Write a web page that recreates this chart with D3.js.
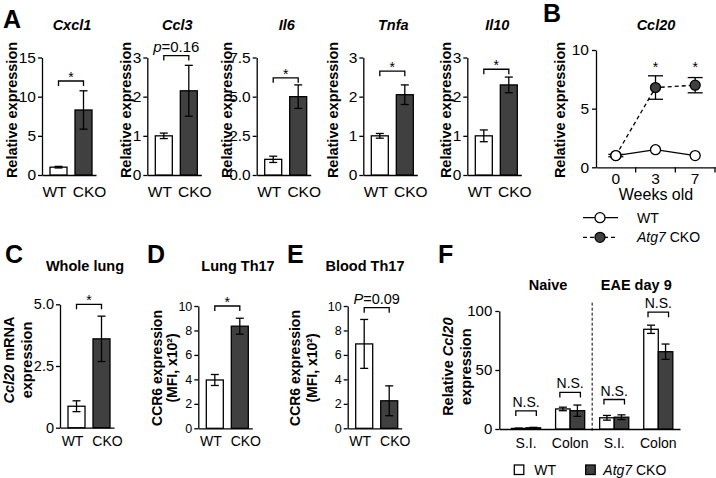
<!DOCTYPE html>
<html>
<head>
<meta charset="utf-8">
<script src="https://cdn.jsdelivr.net/npm/d3@7"></script>
<style>
body { margin: 0; background: #fff; }
svg { display: block; font-family: "Liberation Sans", Arial, sans-serif; }
</style>
</head>
<body>
<svg id="fig" width="716" height="478"></svg>
<script>
// ---- data ----
var genotypes = ["WT", "CKO"];

// panel A: cytokine expression
var aGenes = ["Cxcl1", "Ccl3", "Il6", "Tnfa", "Il10"];
var aWT = [1.0, 1.0, 1.0, 1.0, 1.0];
var aWTErr = [0.1, 0.07, 0.2, 0.06, 0.15];
var aCKO = [8.3, 2.15, 5.0, 2.05, 2.3];
var aCKOErr = [2.45, 0.65, 0.75, 0.25, 0.2];
var aMax = [15, 3, 7.5, 3, 3];
var aTicks = [[0, 5, 10, 15], [0, 1, 2, 3], [0, 2.5, 5, 7.5], [0, 1, 2, 3], [0, 1, 2, 3]];
var aSig = ["*", "p=0.16", "*", "*", "*"];
var aBracket = [12, 3.05, 6.2, 2.65, 2.7];

// panel B: Ccl20 over time
var bWeeks = ["0", "3", "7"];
var bWT = [1.0, 1.5, 1.0];
var bCKO = [1.0, 6.8, 7.0];
var bCKOErr = [0.1, 1.0, 0.65];
var bSig = ["", "*", "*"];

// panel C, D, E
var cVals = [0.87, 3.6];
var cErr = [0.22, 0.92];
var dVals = [3.95, 8.35];
var dErr = [0.45, 0.65];
var eVals = [6.9, 2.25];
var eErr = [2.0, 1.22];

// panel F
var fGroups = ["Naive", "EAE day 9"];
var fTissues = ["S.I.", "Colon", "S.I.", "Colon"];
var fWT = [0.5, 17, 9.5, 84.5];
var fWTErr = [0.3, 1.5, 2, 3.5];
var fCKO = [1.0, 15.5, 10, 65.5];
var fCKOErr = [0.4, 4.8, 2, 6.5];
var fBracket = [15.3, 31, 25, 99];

// ---- drawing ----
var svg = d3.select("#fig");
var dark = "#404040";
var lw = 1.3;

svg.append("rect").attr("width", 716).attr("height", 478).attr("fill", "#fff");

function styleAxis(g, fs) {
  g.select(".domain").attr("stroke", "#000").attr("stroke-width", lw);
  g.selectAll(".tick line").attr("stroke", "#000").attr("stroke-width", lw);
  g.selectAll(".tick text").attr("fill", "#000").style("font-size", fs + "px")
    .style("font-family", "'Liberation Sans', Arial, sans-serif");
}

function errBar(g, cx, y, v, e, cap) {
  g.append("line").attr("x1", cx).attr("x2", cx).attr("y1", y(v - e)).attr("y2", y(v + e))
    .attr("stroke", "#000").attr("stroke-width", lw);
  [v - e, v + e].forEach(function(t) {
    g.append("line").attr("x1", cx - cap).attr("x2", cx + cap).attr("y1", y(t)).attr("y2", y(t))
      .attr("stroke", "#000").attr("stroke-width", lw);
  });
}

function bracket(g, x1, x2, yb, label, fs, italicFirst) {
  g.append("path").attr("d", "M" + x1 + "," + (yb + 5) + "V" + yb + "H" + x2 + "V" + (yb + 5))
    .attr("fill", "none").attr("stroke", "#000").attr("stroke-width", lw);
  var t = g.append("text").attr("x", (x1 + x2) / 2).attr("y", label == "*" ? yb + 1 : yb - 4)
    .attr("text-anchor", "middle").style("font-size", fs + "px");
  if (italicFirst) {
    t.append("tspan").style("font-style", "italic").text(label.charAt(0));
    t.append("tspan").text(label.slice(1));
  } else t.text(label);
}

function yLabel(x, yc, parts, fs) {
  var t = svg.append("text").attr("transform", "translate(" + x + "," + yc + ") rotate(-90)")
    .attr("text-anchor", "middle").attr("dy", "0.35em")
    .style("font-size", fs + "px").style("font-weight", "bold");
  parts.forEach(function(p) {
    t.append("tspan").style("font-style", p[1] ? "italic" : "normal").text(p[0]);
  });
}

function letter(s, x, y) {
  svg.append("text").attr("x", x).attr("y", y).text(s)
    .style("font-size", "25px").style("font-weight", "bold");
}

// WT vs CKO bar panel
function barPanel(p) {
  var g = svg.append("g");
  var x = d3.scaleBand().domain(genotypes).range([p.x0, p.x0 + 54])
    .paddingInner(0.32).paddingOuter(0.24).align(0.667);
  var y = d3.scaleLinear().domain([0, p.max]).range([p.bottom, p.top]);

  g.append("g").attr("transform", "translate(" + p.x0 + ",0)")
    .call(d3.axisLeft(y).tickValues(p.ticks).tickFormat(p.fmt).tickSize(4).tickSizeOuter(0).tickPadding(2))
    .call(styleAxis, p.tickFs);
  var xa = g.append("g").attr("transform", "translate(0," + p.bottom + ")")
    .call(d3.axisBottom(x).tickSize(0).tickSizeOuter(0).tickPadding(p.xPad))
    .call(styleAxis, p.xFs);
  xa.selectAll(".tick text").attr("dx", function(d, i) { return i ? 6 : -4; });

  genotypes.forEach(function(k, i) {
    g.append("rect").attr("x", x(k)).attr("y", y(p.vals[i])).attr("width", x.bandwidth())
      .attr("height", p.bottom - y(p.vals[i]))
      .attr("fill", i ? dark : "#fff").attr("stroke", "#000").attr("stroke-width", lw);
    errBar(g, x(k) + x.bandwidth() / 2, y, p.vals[i], p.errs[i], 4);
  });
  var cW = x("WT") + x.bandwidth() / 2, cK = x("CKO") + x.bandwidth() / 2;
  bracket(g, cW, cK, y(p.bracket), p.sig, p.sigFs, p.sig != "*");
  return {x: x, y: y};
}

// ---- panel A ----
var aAxisX = [42, 147.3, 256.7, 363.3, 467.3];
var aLabelX = [12, 126, 227, 333, 446];
letter("A", 3, 28);
aGenes.forEach(function(gene, i) {
  barPanel({
    x0: aAxisX[i], top: 57.5, bottom: 175, max: aMax[i], ticks: aTicks[i],
    fmt: i == 2 ? d3.format(".1f") : d3.format("d"),
    tickFs: 15.5, xFs: 15.5, xPad: 11,
    vals: [aWT[i], aCKO[i]], errs: [aWTErr[i], aCKOErr[i]],
    bracket: aBracket[i], sig: aSig[i], sigFs: i == 1 ? 15 : 14
  });
  svg.append("text").attr("x", aAxisX[i] + 30).attr("y", 30).attr("text-anchor", "middle")
    .style("font-size", "14.5px").style("font-weight", "bold").style("font-style", "italic").text(gene);
  yLabel(aLabelX[i], 110, [["Relative expression", false]], 14.5);
});

// ---- panel B ----
letter("B", 543, 22);
var bx = d3.scaleBand().domain(bWeeks).range([596, 715]);
var by = d3.scaleLinear().domain([0, 10]).range([167.3, 50]);
var bg = svg.append("g");
bg.append("g").attr("transform", "translate(596,0)")
  .call(d3.axisLeft(by).tickValues([0, 5, 10]).tickSize(4).tickSizeOuter(0).tickPadding(3))
  .call(styleAxis, 15.5);
bg.append("g").attr("transform", "translate(0,167.3)")
  .call(d3.axisBottom(bx).tickSize(0).tickSizeOuter(0).tickPadding(5.5))
  .call(styleAxis, 15.5);
bWeeks.forEach(function(w) {
  var xe = bx(w) + bx.bandwidth();
  bg.append("line").attr("x1", xe).attr("x2", xe).attr("y1", 167.3).attr("y2", 172.5)
    .attr("stroke", "#000").attr("stroke-width", lw);
});
var bcx = function(w) { return bx(w) + bx.bandwidth() / 2; };
var bLine = d3.line().x(function(d) { return bcx(d[0]); }).y(function(d) { return by(d[1]); });
bg.append("path").attr("d", bLine(d3.zip(bWeeks, bCKO))).attr("fill", "none")
  .attr("stroke", "#000").attr("stroke-width", lw).attr("stroke-dasharray", "4,3");
bWeeks.forEach(function(w, i) {
  errBar(bg, bcx(w), by, bCKO[i], bCKOErr[i], 7.5);
  bg.append("circle").attr("cx", bcx(w)).attr("cy", by(bCKO[i])).attr("r", 5)
    .attr("fill", dark).attr("stroke", "#000").attr("stroke-width", lw);
  if (bSig[i]) bg.append("text").attr("x", bcx(w)).attr("y", by(8.8) + 8).attr("text-anchor", "middle")
    .style("font-size", "14px").text(bSig[i]);
});
bg.append("path").attr("d", bLine(d3.zip(bWeeks, bWT))).attr("fill", "none")
  .attr("stroke", "#000").attr("stroke-width", lw);
bWeeks.forEach(function(w, i) {
  bg.append("circle").attr("cx", bcx(w)).attr("cy", by(bWT[i])).attr("r", 5)
    .attr("fill", "#fff").attr("stroke", "#000").attr("stroke-width", lw);
});
svg.append("text").attr("x", 656).attr("y", 30).attr("text-anchor", "middle")
  .style("font-size", "14.5px").style("font-weight", "bold").style("font-style", "italic").text("Ccl20");
yLabel(560, 110, [["Relative expression", false]], 14.5);
svg.append("text").attr("x", 656).attr("y", 200).attr("text-anchor", "middle")
  .style("font-size", "16px").text("Weeks old");
// legend B
[["WT", false], ["CKO", true]].forEach(function(d, i) {
  var ly = 217.7 + i * 19.6;
  svg.append("line").attr("x1", 583).attr("x2", 618).attr("y1", ly).attr("y2", ly)
    .attr("stroke", "#000").attr("stroke-width", lw).attr("stroke-dasharray", i ? "4,3" : null);
  svg.append("circle").attr("cx", 600).attr("cy", ly).attr("r", 5)
    .attr("fill", i ? dark : "#fff").attr("stroke", "#000").attr("stroke-width", lw);
  var t = svg.append("text").attr("x", 637).attr("y", ly + 5).style("font-size", "14px");
  if (d[1]) {
    t.append("tspan").style("font-style", "italic").text("Atg7");
    t.append("tspan").text(" CKO");
  } else t.text(d[0]);
});

// ---- panel C ----
letter("C", 5, 263);
barPanel({
  x0: 60, top: 304.3, bottom: 427.7, max: 5, ticks: [0, 2.5, 5],
  fmt: function(d) { return d === 0 ? "0" : d3.format(".1f")(d); },
  tickFs: 14.5, xFs: 14, xPad: 8,
  vals: cVals, errs: cErr, bracket: 5.0, sig: "*", sigFs: 14
});
svg.append("text").attr("x", 85).attr("y", 271).attr("text-anchor", "middle")
  .style("font-size", "14.5px").style("font-weight", "bold").text("Whole lung");
yLabel(9, 360, [["Ccl20", true], [" mRNA", false]], 14.5);
yLabel(27, 360, [["expression", false]], 14.5);

// ---- panel D ----
letter("D", 147, 263);
barPanel({
  x0: 198.3, top: 306, bottom: 428.3, max: 10, ticks: [0, 2, 4, 6, 8, 10],
  fmt: d3.format("d"), tickFs: 12.5, xFs: 14, xPad: 8,
  vals: dVals, errs: dErr, bracket: 10, sig: "*", sigFs: 14
});
svg.append("text").attr("x", 238).attr("y", 271).attr("text-anchor", "middle")
  .style("font-size", "14.5px").style("font-weight", "bold").text("Lung Th17");
yLabel(157, 368, [["CCR6 expression", false]], 14);
yLabel(172, 368, [["(MFI, x10\u00b2)", false]], 14);

// ---- panel E ----
letter("E", 287, 263);
barPanel({
  x0: 347.7, top: 306, bottom: 428.3, max: 10, ticks: [0, 2, 4, 6, 8, 10],
  fmt: d3.format("d"), tickFs: 12.5, xFs: 14, xPad: 8,
  vals: eVals, errs: eErr, bracket: 9.86, sig: "P=0.09", sigFs: 14.5
});
svg.append("text").attr("x", 365).attr("y", 271).attr("text-anchor", "middle")
  .style("font-size", "14.5px").style("font-weight", "bold").text("Blood Th17");
yLabel(295, 368, [["CCR6 expression", false]], 14);
yLabel(311.7, 368, [["(MFI, x10\u00b2)", false]], 14);

// ---- panel F ----
letter("F", 438, 263);
var fg = svg.append("g");
var fx = d3.scaleBand().domain(d3.range(fTissues.length)).range([499.3, 680])
  .paddingInner(0.34).paddingOuter(0.22).align(0.63);
var fxi = d3.scaleBand().domain(genotypes).range([0, fx.bandwidth()]);
var fy = d3.scaleLinear().domain([0, 100]).range([429, 311]);
fg.append("g").attr("transform", "translate(499.3,0)")
  .call(d3.axisLeft(fy).tickValues([0, 50, 100]).tickSize(4).tickSizeOuter(0).tickPadding(3))
  .call(styleAxis, 15);
var fxa = fg.append("g").attr("transform", "translate(0,429)")
  .call(d3.axisBottom(fx).tickSize(0).tickSizeOuter(0).tickPadding(9)
    .tickFormat(function(d) { return fTissues[d]; }))
  .call(styleAxis, 14);
fTissues.forEach(function(t, i) {
  var vals = [fWT[i], fCKO[i]], errs = [fWTErr[i], fCKOErr[i]];
  genotypes.forEach(function(k, j) {
    var bx0 = fx(i) + fxi(k);
    fg.append("rect").attr("x", bx0).attr("y", fy(vals[j])).attr("width", fxi.bandwidth())
      .attr("height", 429 - fy(vals[j]))
      .attr("fill", j ? dark : "#fff").attr("stroke", "#000").attr("stroke-width", lw);
    errBar(fg, bx0 + fxi.bandwidth() / 2, fy, vals[j], errs[j], 4);
  });
  var c1 = fx(i) + fxi.bandwidth() / 2 - 3, c2 = fx(i) + fxi.bandwidth() * 1.5 + 3;
  bracket(fg, c1, c2, fy(fBracket[i]), "N.S.", 14, false);
});
var sepX = (fx(1) + fx.bandwidth() + fx(2)) / 2;
fg.append("line").attr("x1", sepX).attr("x2", sepX).attr("y1", 302.7).attr("y2", 432)
  .attr("stroke", "#000").attr("stroke-width", 1).attr("stroke-dasharray", "3,2");
fGroups.forEach(function(gname, i) {
  var cx = (fx(2 * i) + fx(2 * i + 1) + fx.bandwidth()) / 2;
  svg.append("text").attr("x", cx).attr("y", 290).attr("text-anchor", "middle")
    .style("font-size", "14.5px").style("font-weight", "bold").text(gname);
});
yLabel(448, 366.7, [["Relative ", false], ["Ccl20", true]], 14.5);
yLabel(465.5, 366.7, [["expression", false]], 14.5);
// legend F
[["WT", 514.3], ["CKO", 585.7]].forEach(function(d, i) {
  svg.append("rect").attr("x", d[1]).attr("y", 465).attr("width", 9.5).attr("height", 9.5)
    .attr("fill", i ? dark : "#fff").attr("stroke", "#000").attr("stroke-width", lw);
  var t = svg.append("text").attr("x", d[1] + (i ? 17.6 : 20)).attr("y", 474.5).style("font-size", "14px");
  if (i) {
    t.append("tspan").style("font-style", "italic").text("Atg7");
    t.append("tspan").text(" CKO");
  } else t.text("WT");
});
</script>
</body>
</html>
